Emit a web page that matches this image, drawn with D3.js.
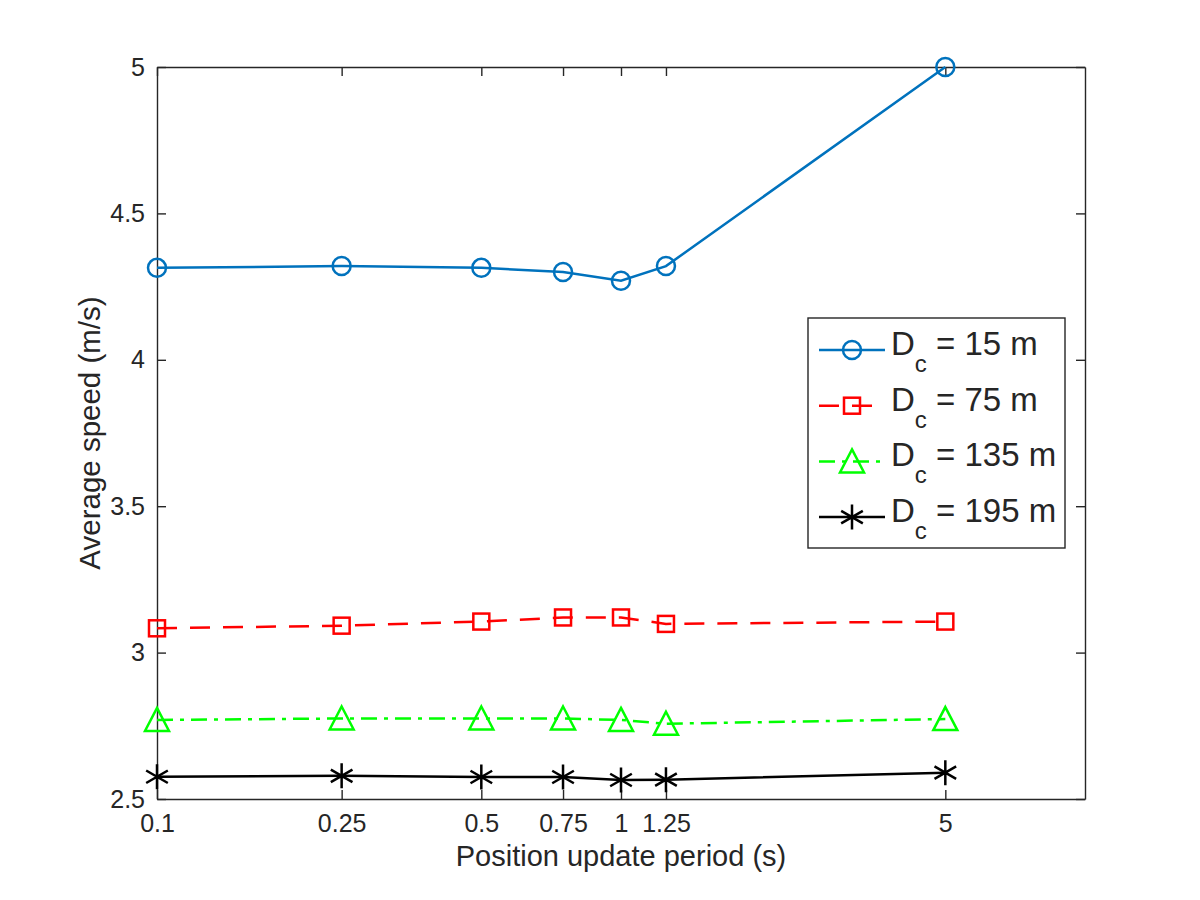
<!DOCTYPE html>
<html>
<head>
  <meta charset="utf-8">
  <title>Average speed</title>
  <script src="https://d3js.org/d3.v7.min.js"></script>
  <style>
    body { margin: 0; background: white; }
    svg text { font-family: "Liberation Sans", Arial, sans-serif; fill: #262626; }
  </style>
</head>
<body>
<div id="output"></div>

<script type="text/javascript">

  var periods = [0.1, 0.25, 0.5, 0.75, 1, 1.25, 5];
  var xTicks = [0.1, 0.25, 0.5, 0.75, 1, 1.25, 5];
  var yTicks = [2.5, 3, 3.5, 4, 4.5, 5];

  var speed15 = [4.314, 4.32, 4.314, 4.30, 4.27, 4.32, 5.0];
  var speed75 = [3.083, 3.092, 3.106, 3.12, 3.12, 3.098, 3.106];
  var speed135 = [2.77, 2.775, 2.775, 2.775, 2.77, 2.757, 2.773];
  var speed195 = [2.576, 2.579, 2.575, 2.575, 2.565, 2.566, 2.59];

  var seriesNames = ["15", "75", "135", "195"];

  var w = 1200, h = 900;
  var margin = {top: 67, right: 115, bottom: 101, left: 157};
  var wChart = w - margin.left - margin.right;
  var hChart = h - margin.top - margin.bottom;

  var x = d3.scaleLog().domain([0.1, 10]).range([0, wChart]);
  var y = d3.scaleLinear().domain([2.5, 5]).range([hChart, 0]);

  var lw = 2.5;
  var series = [
    {name: seriesNames[0], values: speed15, color: "#0072BD", dash: null, marker: "circle"},
    {name: seriesNames[1], values: speed75, color: "#FF0000", dash: "20,13", marker: "square"},
    {name: seriesNames[2], values: speed135, color: "#00FF00", dash: "16,7,4,7", marker: "triangle"},
    {name: seriesNames[3], values: speed195, color: "#000000", dash: null, marker: "star"}
  ];

  var svg = d3.select("#output").append("svg")
          .attr("width", w)
          .attr("height", h);

  var chart = svg.append("g")
          .attr("transform", "translate(" + margin.left + "," + margin.top + ")");

  // axes, ticks point inward
  var fmt = function(d){ return String(d); };
  var xAxis = d3.axisBottom(x).tickValues(xTicks).tickFormat(fmt).tickSizeInner(-9).tickSizeOuter(0).tickPadding(15);
  var xTop = d3.axisTop(x).tickValues(xTicks).tickFormat("").tickSizeInner(-9).tickSizeOuter(0);
  var yAxis = d3.axisLeft(y).tickValues(yTicks).tickFormat(fmt).tickSizeInner(-9).tickSizeOuter(0).tickPadding(12);
  var yRight = d3.axisRight(y).tickValues(yTicks).tickFormat("").tickSizeInner(-9).tickSizeOuter(0);

  function styleAxis(g){
    g.selectAll("path").attr("stroke", "#262626").attr("stroke-width", 1.4);
    g.selectAll("line").attr("stroke", "#262626").attr("stroke-width", 1.4);
    g.selectAll("text").style("font-size", "25px").attr("fill", "#262626");
  }

  chart.append("g").attr("transform", "translate(0," + hChart + ")").call(xAxis).call(styleAxis);
  chart.append("g").call(xTop).call(styleAxis);
  chart.append("g").call(yAxis).call(styleAxis);
  chart.append("g").attr("transform", "translate(" + wChart + ",0)").call(yRight).call(styleAxis);

  chart.append("text")
          .attr("x", wChart / 2)
          .attr("y", hChart + 67)
          .attr("text-anchor", "middle")
          .style("font-size", "29px")
          .text("Position update period (s)");

  chart.append("text")
          .attr("transform", "translate(-57," + (hChart / 2) + ") rotate(-90)")
          .attr("text-anchor", "middle")
          .style("font-size", "29.5px")
          .text("Average speed (m/s)");

  function drawMarker(g, type, color){
    if (type === "circle") {
      g.append("circle").attr("r", 9).attr("fill", "none").attr("stroke", color).attr("stroke-width", lw);
    } else if (type === "square") {
      g.append("rect").attr("x", -8).attr("y", -8).attr("width", 16).attr("height", 16)
              .attr("fill", "none").attr("stroke", color).attr("stroke-width", lw);
    } else if (type === "triangle") {
      g.append("path").attr("d", "M0,-12L12,11L-12,11Z")
              .attr("fill", "none").attr("stroke", color).attr("stroke-width", lw);
    } else {
      var r = 12.5;
      var p = "M0," + (-r) + "L0," + r;
      [30, 150].forEach(function(a){
        var dx = r * Math.cos(a * Math.PI / 180), dy = r * Math.sin(a * Math.PI / 180);
        p += "M" + (-dx) + "," + (-dy) + "L" + dx + "," + dy;
      });
      g.append("path").attr("d", p).attr("stroke", color).attr("stroke-width", lw).attr("fill", "none");
    }
  }

  var line = d3.line()
          .x(function(d){ return x(d[0]); })
          .y(function(d){ return y(d[1]); });

  series.forEach(function(s){
    var pts = periods.map(function(p, i){ return [p, s.values[i]]; });
    chart.append("path")
            .datum(pts)
            .attr("d", line)
            .attr("fill", "none")
            .attr("stroke", s.color)
            .attr("stroke-width", lw)
            .attr("stroke-dasharray", s.dash);
    pts.forEach(function(d){
      var g = chart.append("g").attr("transform", "translate(" + x(d[0]) + "," + y(d[1]) + ")");
      drawMarker(g, s.marker, s.color);
    });
  });

  // legend
  var legend = svg.append("g").attr("transform", "translate(808,318)");
  legend.append("rect").attr("width", 257).attr("height", 230)
          .attr("fill", "white").attr("stroke", "#262626").attr("stroke-width", 1.4);

  series.forEach(function(s, i){
    var row = legend.append("g").attr("transform", "translate(0," + (32 + i * 55.7) + ")");
    row.append("line").attr("x1", 11).attr("x2", 77).attr("y1", 0).attr("y2", 0)
            .attr("stroke", s.color).attr("stroke-width", lw).attr("stroke-dasharray", s.dash);
    var m = row.append("g").attr("transform", "translate(44,0)");
    drawMarker(m, s.marker, s.color);
    var t = row.append("text").attr("x", 83).attr("y", 5).style("font-size", "33px").attr("fill", "#000");
    t.append("tspan").text("D");
    t.append("tspan").attr("dy", 17).style("font-size", "24px").text("c");
    t.append("tspan").attr("dy", -17).text(" = " + s.name + " m");
  });

</script>

</body>
</html>
